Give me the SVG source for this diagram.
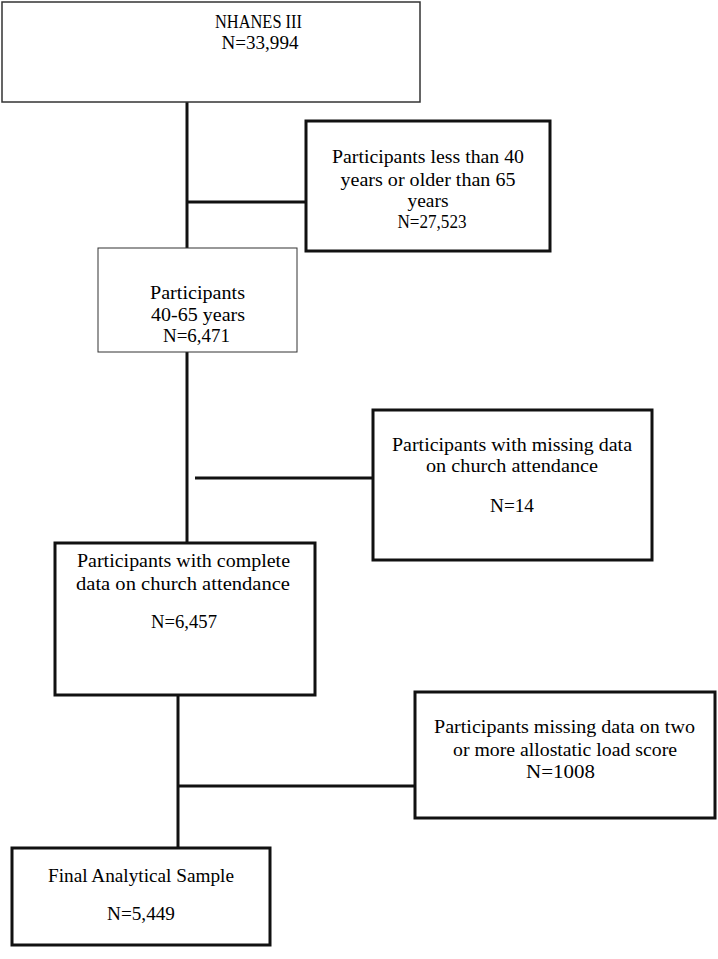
<svg xmlns="http://www.w3.org/2000/svg" width="718" height="959" viewBox="0 0 718 959">
<style>
.bx{fill:#fff;stroke:#111;stroke-width:3}
.thin{fill:#fff;stroke:#333;stroke-width:1.5}
.t{font-family:"Liberation Serif","Times New Roman",serif;font-size:19.5px;fill:#000;text-anchor:middle}
.c{stroke:#111;stroke-width:3;fill:none}
</style>
<rect width="718" height="959" fill="#fff"/>
<g id="connectors">
<line class="c" x1="187" y1="102" x2="187" y2="248"/>
<line class="c" x1="187" y1="202" x2="306" y2="202"/>
<line class="c" x1="187" y1="352" x2="187" y2="543"/>
<line class="c" x1="195" y1="478" x2="373" y2="478"/>
<line class="c" x1="178" y1="689" x2="178" y2="848"/>
<line class="c" x1="179" y1="786" x2="415" y2="786"/>
</g>
<g id="n1">
<rect class="thin" x="2" y="2" width="418" height="100"/>
<text class="t" x="258.5" y="28" textLength="87" lengthAdjust="spacingAndGlyphs">NHANES III</text>
<text class="t" x="260" y="49" textLength="77" lengthAdjust="spacingAndGlyphs">N=33,994</text>
</g>
<g id="n2">
<rect class="bx" x="306" y="121" width="244" height="130"/>
<text class="t" x="428" y="163" textLength="192" lengthAdjust="spacingAndGlyphs">Participants less than 40</text>
<text class="t" x="428" y="186" textLength="175" lengthAdjust="spacingAndGlyphs">years or older than 65</text>
<text class="t" x="428" y="207" textLength="41" lengthAdjust="spacingAndGlyphs">years</text>
<text class="t" x="432" y="228" textLength="69" lengthAdjust="spacingAndGlyphs">N=27,523</text>
</g>
<g id="n3">
<rect class="thin" x="98" y="248" width="199" height="104" style="stroke-width:1"/>
<text class="t" x="197.5" y="299" textLength="95" lengthAdjust="spacingAndGlyphs">Participants</text>
<text class="t" x="198" y="321" textLength="94" lengthAdjust="spacingAndGlyphs">40-65 years</text>
<text class="t" x="196.5" y="342" textLength="67" lengthAdjust="spacingAndGlyphs">N=6,471</text>
</g>
<g id="n4">
<rect class="bx" x="373" y="410" width="279" height="150"/>
<text class="t" x="512" y="451" textLength="240" lengthAdjust="spacingAndGlyphs">Participants with missing data</text>
<text class="t" x="512" y="472" textLength="172" lengthAdjust="spacingAndGlyphs">on church attendance</text>
<text class="t" x="512" y="512" textLength="44" lengthAdjust="spacingAndGlyphs">N=14</text>
</g>
<g id="n5">
<rect class="bx" x="55" y="543" width="260" height="152"/>
<text class="t" x="183.5" y="567" textLength="213" lengthAdjust="spacingAndGlyphs">Participants with complete</text>
<text class="t" x="183" y="590" textLength="214" lengthAdjust="spacingAndGlyphs">data on church attendance</text>
<text class="t" x="184" y="628" textLength="66" lengthAdjust="spacingAndGlyphs">N=6,457</text>
</g>
<g id="n6">
<rect class="bx" x="415" y="692" width="300" height="126"/>
<text class="t" x="564.5" y="733" textLength="261" lengthAdjust="spacingAndGlyphs">Participants missing data on two</text>
<text class="t" x="565" y="756" textLength="224" lengthAdjust="spacingAndGlyphs">or more allostatic load score</text>
<text class="t" x="560.5" y="778" textLength="69" lengthAdjust="spacingAndGlyphs">N=1008</text>
</g>
<g id="n7">
<rect class="bx" x="12" y="848" width="258" height="97"/>
<text class="t" x="141" y="882" textLength="186" lengthAdjust="spacingAndGlyphs">Final Analytical Sample</text>
<text class="t" x="141" y="920" textLength="68" lengthAdjust="spacingAndGlyphs">N=5,449</text>
</g>
</svg>
